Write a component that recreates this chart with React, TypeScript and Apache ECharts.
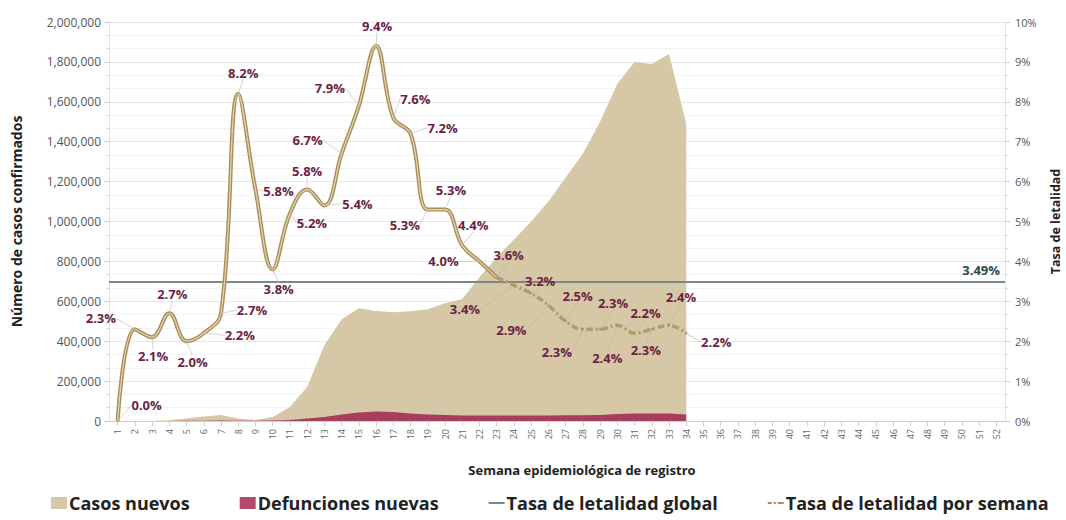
import React, { useEffect, useRef } from "react";
import * as echarts from "echarts";

const weeks: string[] = Array.from({ length: 52 }, (_, i) => String(i + 1));

const casosNuevos: (number | null)[] = [
  0, 0, 0, 4000, 12000, 22000, 30000, 12000, 5000, 20000, 70000, 170000,
  380000, 510000, 565000, 552000, 545000, 550000, 560000, 590000, 612000,
  720000, 820000, 910000, 1000000, 1100000, 1220000, 1340000, 1500000,
  1690000, 1800000, 1790000, 1840000, 1490000,
];

const defuncionesNuevas: (number | null)[] = [
  0, 0, 0, 500, 1000, 1500, 2000, 1000, 1000, 2000, 5000, 12000, 20000,
  32000, 42000, 48000, 45000, 38000, 33000, 30000, 28000, 28000, 28000,
  28000, 28000, 28000, 29000, 29000, 30000, 35000, 38000, 37000, 38000,
  33000,
];

const tasaSemanal: number[] = [
  0.0, 2.3, 2.1, 2.7, 2.0, 2.2, 2.7, 8.2, 5.8, 3.8, 5.2, 5.8, 5.4, 6.7, 7.9,
  9.4, 7.6, 7.2, 5.3, 5.3, 4.4, 4.0, 3.6, 3.4, 3.2, 2.9, 2.5, 2.3, 2.3, 2.4,
  2.2, 2.3, 2.4, 2.2,
];

const tasaGlobal = 3.49;
const splitWeekIndex = 22; // week 23: dashed from here on

// label offsets (dx, dy) from each point
const labelOffsets: [number, number][] = [
  [29, -16], [-34, -11], [1, 19], [3, -19], [6, 21], [36, 2], [31, -3],
  [5, -21], [23, 1], [6, 20], [22, 9], [0, -19], [33, -2], [-34, -14],
  [-29, -18], [1, -20], [22, -19], [32, -6], [-23, 15], [6, -20], [11, -20],
  [-36, 0], [12, -22], [-49, 24], [9, -12], [-37, 25], [12, -25], [-26, 23],
  [13, -26], [-10, 33], [11, -20], [-6, 21], [12, -28], [30, 9],
];

const FONT = "'Open Sans', 'Noto Sans', sans-serif";
const TAN = "#d6c7a6";
const CRIMSON = "#a63f5b";
const LINE = "#a98e5c";
const LABEL = "#6b1f42";

export default function App() {
  const ref = useRef<HTMLDivElement>(null);

  useEffect(() => {
    if (!ref.current) return;
    document.body.style.margin = "0";
    document.body.style.overflow = "hidden";
    document.documentElement.style.overflow = "hidden";
    const chart = echarts.init(ref.current, undefined, { renderer: "svg", width: 1066, height: 520 });

    const solidData = tasaSemanal.map((v, i) => (i <= splitWeekIndex ? v : null));
    const dashData = tasaSemanal.map((v, i) => (i >= splitWeekIndex ? v : null));

    const layout = (params: any) => {
      const i = params.dataIndex;
      const off = labelOffsets[i] || [0, -15];
      const r = params.rect;
      return {
        x: r.x + r.width / 2 + off[0],
        y: r.y + r.height / 2 + off[1],
        align: "center",
        verticalAlign: "middle",
      };
    };

    const labelStyle = {
      show: true,
      position: "top",
      color: LABEL,
      fontFamily: FONT,
      fontWeight: "bold",
      fontSize: 13,
    };

    chart.setOption({
      animation: false,
      textStyle: { fontFamily: FONT },
      grid: { left: 109, right: 61, top: 22, bottom: 99, containLabel: false, outerBoundsMode: "none" },
      legend: {
        bottom: 3,
        left: 46,
        itemGap: 50,
        itemWidth: 16,
        itemHeight: 12,
        textStyle: { fontFamily: FONT, fontWeight: "bold", fontSize: 18, color: "#222", padding: [0, 0, 0, -3] },
        data: [
          { name: "Casos nuevos", icon: "rect" },
          { name: "Defunciones nuevas", icon: "rect", itemStyle: { color: "#b5486f" } },
          { name: "Tasa de letalidad global", icon: "path://M0,0H24V3H0Z" },
          { name: "Tasa de letalidad por semana", icon: "path://M0,0H6V3H0Z M9,0H12V3H9Z M15,0H24V3H15Z" },
        ],
      },
      xAxis: {
        type: "category",
        data: weeks,
        boundaryGap: true,
        name: "Semana epidemiológica de registro",
        nameLocation: "middle",
        nameGap: 42,
        nameTextStyle: { fontFamily: FONT, fontWeight: "bold", fontSize: 13, color: "#222", padding: [0, 0, 0, 50] },
        axisLine: { lineStyle: { color: "#cfcfcf" } },
        axisTick: { show: true, alignWithLabel: true, lineStyle: { color: "#cfcfcf" } },
        axisLabel: { interval: 0, rotate: 90, fontSize: 9, color: "#666", fontFamily: FONT },
      },
      yAxis: [
        {
          type: "value",
          min: 0,
          max: 2000000,
          interval: 200000,
          name: "Número de casos confirmados",
          nameLocation: "middle",
          nameGap: 86,
          nameTextStyle: { fontFamily: FONT, fontWeight: "bold", fontSize: 14, color: "#222" },
          axisLine: { show: true, lineStyle: { color: "#e0e0e0" } },
          axisTick: { show: true, lineStyle: { color: "#cfcfcf" } },
          minorTick: { show: true, splitNumber: 3, lineStyle: { color: "#d8d8d8" } },
          splitLine: { lineStyle: { color: "#e8e8e8" } },
          minorSplitLine: { show: true, lineStyle: { color: "#f3f3f3" } },
          axisLabel: {
            fontSize: 12,
            color: "#555",
            fontFamily: FONT,
            formatter: (v: number) => v.toLocaleString("en-US"),
          },
        },
        {
          type: "value",
          min: 0,
          max: 10,
          interval: 1,
          position: "right",
          name: "Tasa de letalidad",
          nameLocation: "middle",
          nameGap: 44,
          nameRotate: 90,
          nameTextStyle: { fontFamily: FONT, fontWeight: "bold", fontSize: 12.5, color: "#222" },
          axisLine: { show: true, lineStyle: { color: "#e0e0e0" } },
          axisTick: { show: true, lineStyle: { color: "#cfcfcf" } },
          minorTick: { show: true, splitNumber: 3, lineStyle: { color: "#d8d8d8" } },
          splitLine: { show: false },
          axisLabel: { fontSize: 11, color: "#555", fontFamily: FONT, formatter: "{value}%", margin: 10 },
        },
      ],
      series: [
        {
          name: "Casos nuevos",
          type: "line",
          data: casosNuevos,
          color: TAN,
          symbol: "none",
          lineStyle: { width: 0 },
          areaStyle: { color: TAN, opacity: 1 },
          z: 1,
        },
        {
          name: "Defunciones nuevas",
          type: "line",
          data: defuncionesNuevas,
          color: CRIMSON,
          symbol: "none",
          lineStyle: { width: 0 },
          areaStyle: { color: CRIMSON, opacity: 1 },
          z: 2,
        },
        {
          name: "Tasa de letalidad global",
          type: "line",
          yAxisIndex: 1,
          data: [],
          color: "#7d8883",
          symbol: "none",
          z: 3,
          markLine: {
            silent: true,
            symbol: "none",
            data: [{ yAxis: tasaGlobal }],
            lineStyle: { color: "#7d8883", width: 2, type: "solid" },
            label: {
              position: "insideEndTop",
              formatter: () => tasaGlobal.toFixed(2) + "%",
              color: "#2e4a3c",
              fontWeight: "bold",
              fontSize: 13,
              fontFamily: FONT,
            },
          },
        },
        {
          name: "Tasa de letalidad por semana",
          type: "line",
          yAxisIndex: 1,
          data: solidData,
          color: LINE,
          smooth: 0.4,
          symbol: "circle",
          symbolSize: 2,
          lineStyle: { width: 4, color: LINE },
          z: 5,
          label: {
            ...labelStyle,
            formatter: (p: any) => (p.dataIndex < splitWeekIndex ? Number(p.value).toFixed(1) + "%" : ""),
          },
          labelLine: { show: true, lineStyle: { color: "#c8c8c8", width: 0.8 } },
          labelLayout: layout,
        },
        {
          name: "core",
          type: "line",
          yAxisIndex: 1,
          data: solidData,
          smooth: 0.4,
          symbol: "none",
          silent: true,
          lineStyle: { width: 1.2, color: "#e4d6b0" },
          z: 6,
        },
        {
          name: "Tasa de letalidad por semana",
          type: "line",
          yAxisIndex: 1,
          data: dashData,
          color: LINE,
          smooth: 0.4,
          symbol: "circle",
          symbolSize: 2,
          lineStyle: { width: 3.5, color: "#b39b6a", type: [7, 3, 2, 3] },
          z: 5,
          label: {
            ...labelStyle,
            formatter: (p: any) => Number(p.value).toFixed(1) + "%",
          },
          labelLine: { show: true, lineStyle: { color: "#c8b89a", width: 0.8 } },
          labelLayout: layout,
        },
      ],
    });

    return () => chart.dispose();
  }, []);

  return (
    <div
      ref={ref}
      style={{ position: "fixed", left: 0, top: 0, width: 1066, height: 520, background: "#fff" }}
    />
  );
}
